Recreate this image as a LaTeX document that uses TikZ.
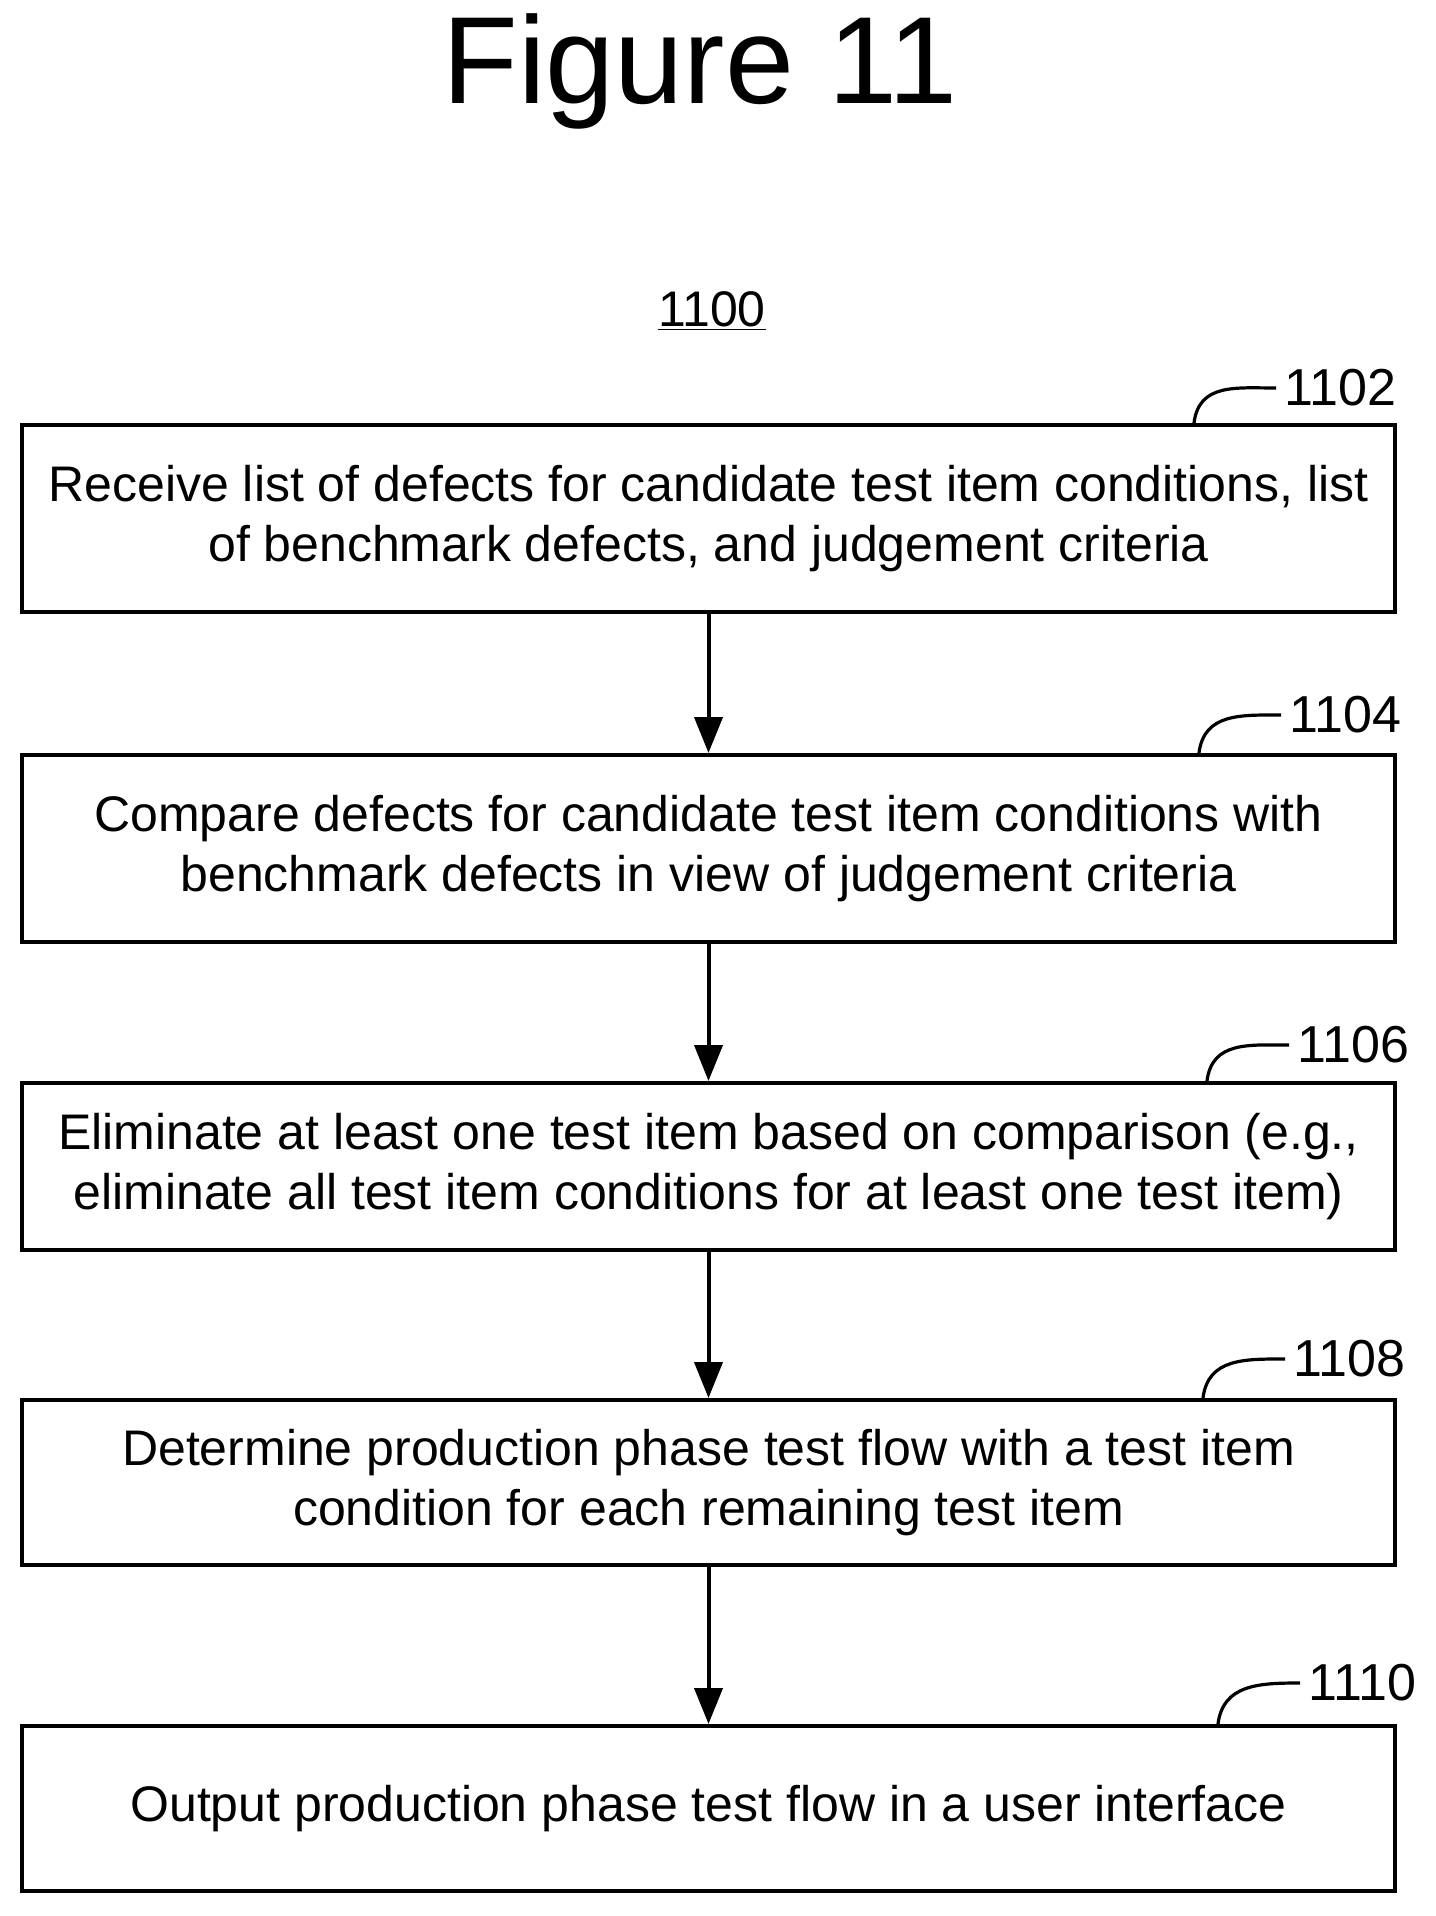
\documentclass[tikz,border=0pt]{standalone}
\usepackage{fontspec}
\setmainfont{Liberation Sans}
\usetikzlibrary{arrows.meta}
\begin{document}
\begin{tikzpicture}[x=0.5pt,y=-0.5pt,
  box/.style={draw,line width=2pt,minimum width=686.5pt,align=center,font=\fontsize{25}{30}\selectfont,inner sep=0pt},
  lab/.style={font=\fontsize{26}{28}\selectfont,anchor=west,inner sep=0pt},
  arr/.style={line width=2pt,-{Triangle[length=18pt,width=14pt]}},
  lead/.style={line width=1.6pt}]
\useasboundingbox (0,0) rectangle (1435,1916);
\node[font=\fontsize{62}{70}\selectfont] (title) at (700,71) {Figure 11};
\node[font=\fontsize{25}{30}\selectfont] (num) at (712,311) {\underline{1100}};
\node[box,minimum height=93.5pt] (b1) at (708.5,518.5) {Receive list of defects for candidate test item conditions, list\\of benchmark defects, and judgement criteria};
\node[box,minimum height=93.5pt] (b2) at (708.5,848.5) {Compare defects for candidate test item conditions with\\benchmark defects in view of judgement criteria};
\node[box,minimum height=83.5pt] (b3) at (708.5,1166.5) {Eliminate at least one test item based on comparison (e.g.,\\eliminate all test item conditions for at least one test item)};
\node[box,minimum height=82.5pt] (b4) at (708.5,1482.5) {Determine production phase test flow with a test item\\condition for each remaining test item};
\node[box,minimum height=82.5pt] (b5) at (708.5,1808.5) {Output production phase test flow in a user interface};
\draw[arr] (b1.south) -- (b2.north);
\draw[arr] (b2.south) -- (b3.north);
\draw[arr] (b3.south) -- (b4.north);
\draw[arr] (b4.south) -- (b5.north);
\foreach \b/\t/\xs/\xl/\yl in {b1/1102/1194/1284/388, b2/1104/1199/1289/715, b3/1106/1207/1297/1045, b4/1108/1203/1293/1359, b5/1110/1218/1308/1683}{
  \coordinate (s\b) at (\xs,0 |- \b.north);
  \node[lab] (l\b) at (\xl,\yl) {\t};
  \draw[lead] (s\b) .. controls ++(5,-40) and ++(-40,0) .. ([xshift=-4pt]l\b.west);
}
\end{tikzpicture}
\end{document}
